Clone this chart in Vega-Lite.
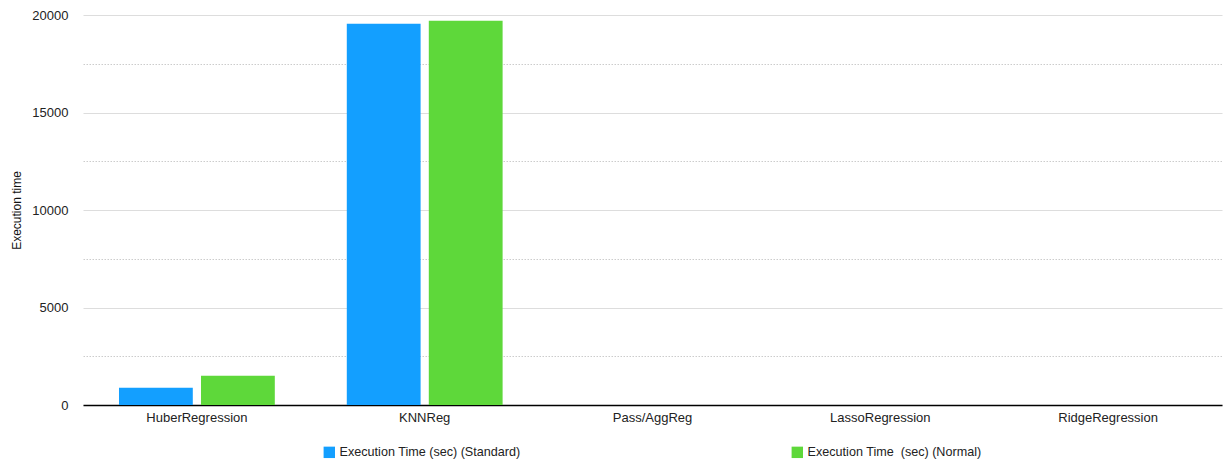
{
  "$schema": "https://vega.github.io/schema/vega-lite/v6.json",
  "width": 1223,
  "height": 461,
  "autosize": {"type": "fit", "contains": "padding"},
  "padding": {"left": 10, "right": 1, "top": 9, "bottom": 2},
  "background": "white",
  "data": {
    "values": [
      {"model": "HuberRegression", "series": "Execution Time (sec) (Standard)", "time": 880},
      {"model": "HuberRegression", "series": "Execution Time\u00a0 (sec) (Normal)", "time": 1500},
      {"model": "KNNReg", "series": "Execution Time (sec) (Standard)", "time": 19550},
      {"model": "KNNReg", "series": "Execution Time\u00a0 (sec) (Normal)", "time": 19700},
      {"model": "Pass/AggReg", "series": "Execution Time (sec) (Standard)", "time": 3},
      {"model": "Pass/AggReg", "series": "Execution Time\u00a0 (sec) (Normal)", "time": 3},
      {"model": "LassoRegression", "series": "Execution Time (sec) (Standard)", "time": 2},
      {"model": "LassoRegression", "series": "Execution Time\u00a0 (sec) (Normal)", "time": 2},
      {"model": "RidgeRegression", "series": "Execution Time (sec) (Standard)", "time": 2},
      {"model": "RidgeRegression", "series": "Execution Time\u00a0 (sec) (Normal)", "time": 2}
    ]
  },
  "mark": {"type": "bar"},
  "encoding": {
    "x": {
      "field": "model",
      "type": "nominal",
      "sort": null,
      "scale": {"paddingInner": 0.316, "paddingOuter": 0.158},
      "axis": {
        "title": null,
        "labelAngle": 0,
        "ticks": false,
        "domainColor": "#000000",
        "domainWidth": 1.5,
        "labelFont": "Liberation Sans",
        "labelFontSize": 13,
        "labelColor": "#222222",
        "labelPadding": 6,
        "grid": false
      }
    },
    "xOffset": {
      "field": "series",
      "type": "nominal",
      "sort": null,
      "scale": {"paddingInner": 0.1, "paddingOuter": 0}
    },
    "y": {
      "field": "time",
      "type": "quantitative",
      "scale": {"domain": [0, 20000], "nice": false},
      "axis": {
        "title": "Execution time",
        "titleFont": "Liberation Sans",
        "titleFontSize": 12,
        "titleFontWeight": "normal",
        "titleColor": "#111111",
        "titlePadding": 8,
        "values": [0, 2500, 5000, 7500, 10000, 12500, 15000, 17500, 20000],
        "labelExpr": "datum.value % 5000 === 0 ? datum.value : ''",
        "labelFont": "Liberation Sans",
        "labelFontSize": 13,
        "labelColor": "#222222",
        "labelPadding": 15,
        "ticks": false,
        "domain": false,
        "grid": true,
        "gridColor": {"condition": {"test": "datum.value % 5000 === 0", "value": "#dddddd"}, "value": "#cccccc"},
        "gridWidth": {"condition": {"test": "datum.value % 5000 === 0", "value": 1.2}, "value": 1},
        "gridDash": {"condition": {"test": "datum.value % 5000 === 0", "value": []}, "value": [1.5, 1.5]}
      }
    },
    "color": {
      "field": "series",
      "type": "nominal",
      "sort": null,
      "scale": {"range": ["#139FFF", "#5ED83A"]},
      "legend": {
        "title": null,
        "orient": "bottom",
        "direction": "horizontal",
        "symbolType": "square",
        "symbolSize": 130,
        "symbolStrokeWidth": 0,
        "labelFont": "Liberation Sans",
        "labelFontSize": 12.6,
        "labelColor": "#222222",
        "labelLimit": 300,
        "columnPadding": 270,
        "offset": 22
      }
    }
  },
  "config": {
    "view": {"stroke": null},
    "legend": {"layout": {"bottom": {"anchor": "middle"}}}
  }
}
